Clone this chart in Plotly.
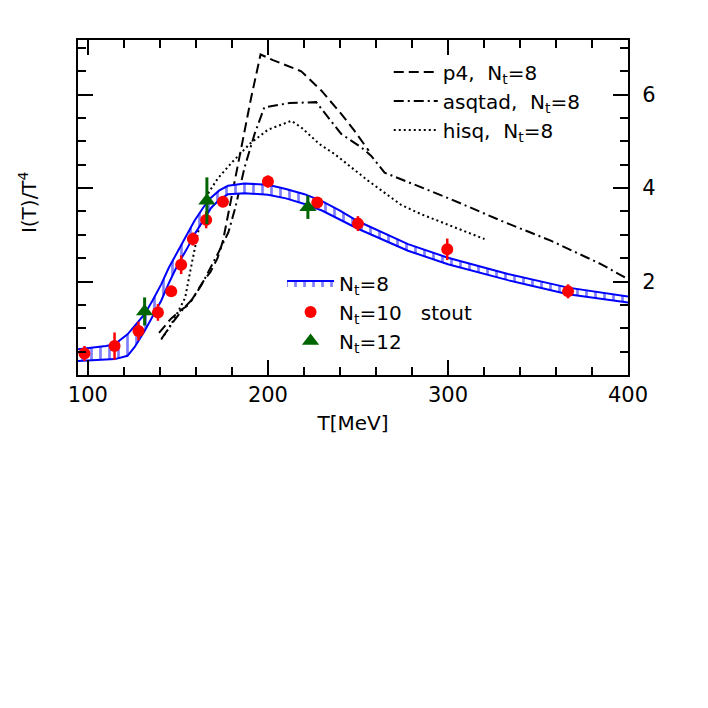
import plotly.graph_objects as go

# N_t=8 stout band (upper / lower edges)
t_band = [94.5, 100, 110, 115, 122, 126, 131.5, 136, 140.7, 145, 150, 155, 159.2, 164,
          168.5, 173, 177.8, 187, 200, 210, 220.3, 230, 240, 250, 277.8, 300, 333.3, 366.7, 400]
band_hi = [0.55, 0.57, 0.62, 0.66, 0.87, 1.05, 1.30, 1.60, 1.94, 2.30, 2.66, 3.00, 3.30, 3.58,
           3.80, 3.95, 4.05, 4.10, 4.07, 3.98, 3.87, 3.72, 3.52, 3.29, 2.80, 2.51, 2.16, 1.87, 1.68]
band_lo = [0.30, 0.31, 0.33, 0.34, 0.41, 0.60, 0.94, 1.25, 1.59, 1.97, 2.37, 2.70, 3.01, 3.30,
           3.58, 3.75, 3.87, 3.89, 3.86, 3.78, 3.66, 3.52, 3.33, 3.13, 2.66, 2.37, 2.03, 1.73, 1.55]

# N_t=10 stout points
t_nt10 = [98.1, 114.8, 128.1, 138.9, 146.3, 151.8, 158.3, 165.7, 175.0, 200.0, 227.4, 250.0, 299.6, 366.7]
i_nt10 = [0.46, 0.62, 0.94, 1.34, 1.79, 2.36, 2.91, 3.32, 3.71, 4.14, 3.69, 3.24, 2.69, 1.79]
e_nt10 = [0.16, 0.29, 0.20, 0.18, 0.10, 0.20, 0.14, 0.18, 0.10, 0.13, 0.12, 0.16, 0.23, 0.15]

# N_t=12 points
t_nt12 = [131.5, 166.1, 222.2]
i_nt12 = [1.36, 3.73, 3.59]
e_nt12 = [0.30, 0.50, 0.25]

# other actions, N_t=8
t_p4 = [139.5, 146, 152, 156, 160, 164, 168, 172, 175, 180, 185.2, 190.7, 195.9, 202.8, 218.5, 229.6, 240.7, 248, 256]
i_p4 = [0.90, 1.20, 1.40, 1.50, 1.75, 2.00, 2.20, 2.50, 2.87, 3.85, 4.87, 5.94, 6.86, 6.74, 6.50, 6.09, 5.59, 5.23, 4.80]

t_asq = [141, 147, 153, 158, 163, 168, 173, 178, 182, 187, 192.6, 198, 212, 226.8, 233.3, 240.7,
         251.9, 257.4, 264.8, 274, 301.8, 329.6, 357.4, 385.2, 400]
i_asq = [0.78, 1.12, 1.42, 1.62, 1.92, 2.28, 2.66, 3.05, 3.60, 4.44, 5.16, 5.73, 5.82, 5.84, 5.51, 5.16,
         4.87, 4.69, 4.33, 4.19, 3.76, 3.30, 2.87, 2.37, 2.05]

t_hisq = [140.7, 145, 150, 154, 157, 160, 163, 167, 172, 180, 190, 200, 213, 218.5, 228.7, 237, 255.6, 274, 285.2, 320.3]
i_hisq = [0.76, 1.00, 1.35, 1.65, 2.25, 2.85, 3.40, 3.90, 4.20, 4.55, 4.95, 5.25, 5.44, 5.30, 4.94, 4.73, 4.16, 3.64, 3.44, 2.91]

FONT = "DejaVu Sans"
BLUE = "#0000ff"
RED = "#ff0000"
GREEN = "#006400"

fig = go.Figure()

# black comparison curves (top-right legend)
fig.add_trace(go.Scatter(x=t_p4, y=i_p4, mode="lines", name="p4,\u00a0 N<sub>t</sub>=8",
                         line=dict(color="black", width=2, dash="10px,5px"), legend="legend"))
fig.add_trace(go.Scatter(x=t_asq, y=i_asq, mode="lines", name="asqtad,\u00a0 N<sub>t</sub>=8",
                         line=dict(color="black", width=2, dash="10px,4px,2px,4px"), legend="legend"))
fig.add_trace(go.Scatter(x=t_hisq, y=i_hisq, mode="lines", name="hisq,\u00a0 N<sub>t</sub>=8",
                         line=dict(color="black", width=2, dash="2px,3px"), legend="legend"))

# hatched N_t=8 band
fig.add_trace(go.Scatter(x=t_band, y=band_lo, mode="lines", line=dict(color=BLUE, width=2),
                         showlegend=False, hoverinfo="skip", legend="legend2"))
fig.add_trace(go.Scatter(x=t_band, y=band_hi, mode="lines", line=dict(color=BLUE, width=2),
                         fill="tonexty", fillcolor=BLUE,
                         fillpattern=dict(shape="|", fgcolor=BLUE, bgcolor="white", size=9, solidity=0.3),
                         name="N<sub>t</sub>=8", legend="legend2"))

fig.add_trace(go.Scatter(x=t_nt10, y=i_nt10, mode="markers", name="N<sub>t</sub>=10\u00a0\u00a0\u00a0stout",
                         marker=dict(color=RED, size=12, symbol="circle"),
                         error_y=dict(type="data", array=e_nt10, color=RED, thickness=2.5, width=0),
                         legend="legend2"))
fig.add_trace(go.Scatter(x=t_nt12, y=i_nt12, mode="markers", name="N<sub>t</sub>=12",
                         marker=dict(color=GREEN, size=15, symbol="triangle-up"),
                         error_y=dict(type="data", array=e_nt12, color=GREEN, thickness=3, width=0),
                         legend="legend2"))

axis_common = dict(
    showline=True, linewidth=2, linecolor="black", mirror="ticks",
    ticks="inside", ticklen=15, tickwidth=2, tickcolor="black",
    showgrid=False, zeroline=False,
    tickfont=dict(family=FONT, size=21, color="black"),
)

fig.update_xaxes(range=[94.5, 400], tickvals=[100, 200, 300, 400],
                 minor=dict(dtick=20, tick0=0, ticks="inside", ticklen=8, tickwidth=2, tickcolor="black", showgrid=False),
                 title=dict(text="T[MeV]", font=dict(family=FONT, size=20, color="black"), standoff=10),
                 **axis_common)
fig.update_yaxes(range=[0, 7.17], tickvals=[2, 4, 6], side="right",
                 minor=dict(dtick=0.5, tick0=0, ticks="inside", ticklen=8, tickwidth=2, tickcolor="black", showgrid=False),
                 ticklabelstandoff=8,
                 **axis_common)

fig.add_annotation(text="I(T)/T<sup>4</sup>", xref="paper", yref="paper", x=-0.091, y=0.516,
                   textangle=-90, showarrow=False, xanchor="center", yanchor="middle",
                   font=dict(family=FONT, size=20, color="black"))

# page body adds ~7px offset, so margins are shifted to compensate
fig.update_layout(
    width=708, height=708,
    margin=dict(l=70, r=88, t=32, b=341),
    plot_bgcolor="white", paper_bgcolor="white",
    font=dict(family=FONT, size=20, color="black"),
    legend=dict(x=0.565, y=0.963, xanchor="left", yanchor="top", bgcolor="rgba(0,0,0,0)",
                font=dict(family=FONT, size=20), tracegroupgap=0, itemwidth=44),
    legend2=dict(x=0.371, y=0.333, xanchor="left", yanchor="top", bgcolor="rgba(0,0,0,0)",
                 font=dict(family=FONT, size=20), tracegroupgap=0, itemwidth=47, traceorder="normal"),
)

fig.write_html("out.html")
